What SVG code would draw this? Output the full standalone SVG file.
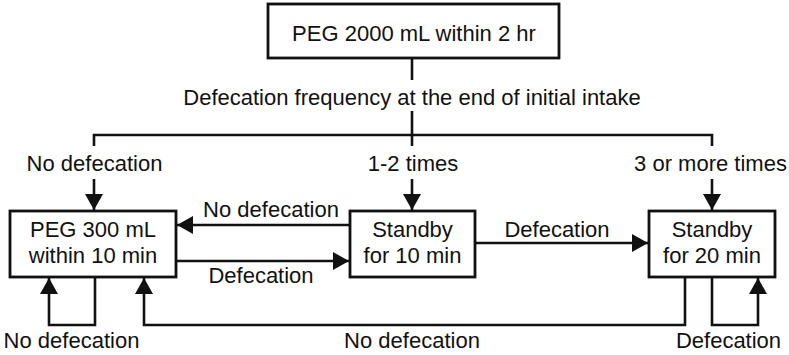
<svg xmlns="http://www.w3.org/2000/svg" width="789" height="355" viewBox="0 0 789 355">
<style>
  .box { fill: #fff; stroke: #111; stroke-width: 2.8; }
  .t { font-family: "Liberation Sans", Arial, sans-serif; font-size: 22px; fill: #111; text-anchor: middle; }
  .c { fill: none; stroke: #111; stroke-width: 2.6; }
</style>
<defs>
  <marker id="ah" markerUnits="userSpaceOnUse" markerWidth="18" markerHeight="18" refX="16" refY="9" orient="auto">
    <path d="M0,0 L16,9 L0,18 z" fill="#111"/>
  </marker>
</defs>
<rect width="789" height="355" fill="#fff"/>
<g id="connectors">
  <line class="c" x1="412" y1="58" x2="412" y2="80"/>
  <line class="c" x1="412" y1="111" x2="412" y2="146"/>
  <polyline class="c" points="94,146 94,135 712,135 712,146"/>
  <line class="c" x1="94" y1="179" x2="94" y2="210" marker-end="url(#ah)"/>
  <line class="c" x1="412" y1="179" x2="412" y2="210" marker-end="url(#ah)"/>
  <line class="c" x1="712" y1="179" x2="712" y2="210" marker-end="url(#ah)"/>
  <line class="c" x1="350" y1="225" x2="177" y2="225" marker-end="url(#ah)"/>
  <line class="c" x1="177" y1="261" x2="349" y2="261" marker-end="url(#ah)"/>
  <line class="c" x1="475" y1="243" x2="648" y2="243" marker-end="url(#ah)"/>
  <polyline class="c" points="95,277 95,325 49,325 49,278" marker-end="url(#ah)"/>
  <polyline class="c" points="685,277 685,325 144,325 144,278" marker-end="url(#ah)"/>
  <polyline class="c" points="712,277 712,325 758,325 758,278" marker-end="url(#ah)"/>
  <text class="t" x="412" y="105">Defecation frequency at the end of initial intake</text>
  <text class="t" x="94.5" y="171">No defecation</text>
  <text class="t" x="413" y="171">1-2 times</text>
  <text class="t" x="710.5" y="171">3 or more times</text>
  <text class="t" x="271" y="217">No defecation</text>
  <text class="t" x="261" y="283">Defecation</text>
  <text class="t" x="557" y="237">Defecation</text>
  <text class="t" x="71.5" y="348">No defecation</text>
  <text class="t" x="412" y="348">No defecation</text>
  <text class="t" x="728.5" y="348">Defecation</text>
</g>
<g id="node-top">
  <rect class="box" x="268" y="4" width="291" height="54"/>
  <text class="t" x="414" y="41">PEG 2000 mL within 2 hr</text>
</g>
<g id="node-peg300">
  <rect class="box" x="10" y="211" width="166" height="66"/>
  <text class="t" x="93" y="237">PEG 300 mL</text>
  <text class="t" x="93" y="263">within 10 min</text>
</g>
<g id="node-standby10">
  <rect class="box" x="350" y="211" width="125" height="66"/>
  <text class="t" x="412.5" y="237">Standby</text>
  <text class="t" x="412.5" y="263">for 10 min</text>
</g>
<g id="node-standby20">
  <rect class="box" x="649" y="211" width="126" height="66"/>
  <text class="t" x="712" y="237">Standby</text>
  <text class="t" x="712" y="263">for 20 min</text>
</g>
</svg>
